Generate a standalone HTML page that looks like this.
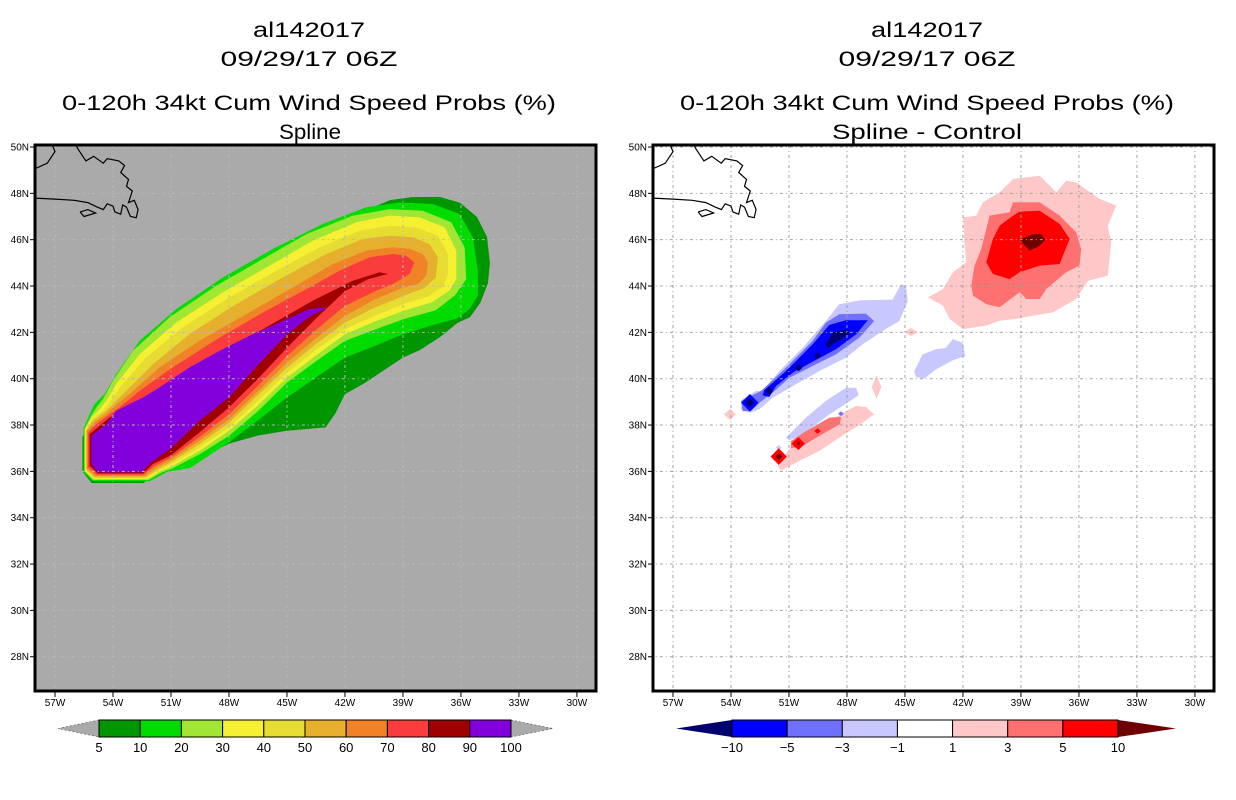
<!DOCTYPE html>
<html><head><meta charset="utf-8"><title>al142017 wind speed probs</title>
<style>html,body{margin:0;padding:0;background:#fff;}svg{display:block;font-family:"Liberation Sans",sans-serif;}</style>
</head><body>
<svg id="fig" width="1236" height="800" viewBox="0 0 1236 800" xmlns="http://www.w3.org/2000/svg">
<defs>
<clipPath id="clipL"><rect x="35" y="145" width="561" height="546"/></clipPath>
<clipPath id="clipR"><rect x="653" y="145" width="561" height="546"/></clipPath>
</defs>
<g font-size="21" text-anchor="middle" fill="#000">
<text x="309" y="37" textLength="112" lengthAdjust="spacingAndGlyphs">al142017</text>
<text x="309" y="66" textLength="177" lengthAdjust="spacingAndGlyphs">09/29/17 06Z</text>
<text x="309" y="110" textLength="494" lengthAdjust="spacingAndGlyphs">0-120h 34kt Cum Wind Speed Probs (%)</text>
<text x="310" y="139" textLength="62" lengthAdjust="spacingAndGlyphs">Spline</text>
</g>
<g font-size="21" text-anchor="middle" fill="#000">
<text x="927" y="37" textLength="112" lengthAdjust="spacingAndGlyphs">al142017</text>
<text x="927" y="66" textLength="177" lengthAdjust="spacingAndGlyphs">09/29/17 06Z</text>
<text x="927" y="110" textLength="494" lengthAdjust="spacingAndGlyphs">0-120h 34kt Cum Wind Speed Probs (%)</text>
<text x="927" y="139" textLength="190" lengthAdjust="spacingAndGlyphs">Spline - Control</text>
</g>
<rect x="35" y="145" width="561" height="546" fill="#aaaaaa"/>
<rect x="653" y="145" width="561" height="546" fill="#ffffff"/>
<g id="leftFill" clip-path="url(#clipL)"></g>
<g id="rightFill" clip-path="url(#clipR)"></g>
<g id="axes"></g>
<g id="cbars"></g>
</svg>
<script>
// ---- axis / tick data ----
const lonTicks = [57,54,51,48,45,42,39,36,33,30];
const latTicks = [50,48,46,44,42,40,38,36,34,32,30,28];

// ---- left panel: probability levels & contour polygons [lonW, lat] ----
const probLevels = [5,10,20,30,40,50,60,70,80,90,100];
const probColors = ["#009600","#00dc00","#a0e632","#f5f032","#e6dc32","#e6af2d","#f08228","#fa3c3c","#a00000","#8200dc"];
const swath5 = [[55.58,37.5],[55.58,36.0],[55.1,35.5],[52.4,35.5],[51.98,36.0],[51.0,36.0],[49.5,36.6],[48.0,37.2],[46.5,37.55],[45.0,37.75],[43.0,37.9],[42.5,38.5],[42.0,39.33],[41.0,39.8],[39.0,40.91],[38.12,41.24],[37.08,41.8],[36.2,42.4],[35.53,42.66],[35.0,43.27],[34.6,44.13],[34.5,45.0],[34.65,46.12],[35.17,46.98],[36.05,47.59],[37.08,47.84],[38.48,47.84],[39.67,47.71],[40.86,47.28],[41.9,46.55],[42.62,46.12],[44.48,45.25],[46.24,44.26],[47.95,43.4],[49.86,42.1],[51.41,40.94],[52.6,39.81],[54.0,38.65],[54.52,38.35],[55.03,38.09]];
const swath10 = [[55.52,37.87],[55.52,35.96],[55.07,35.57],[52.1,35.57],[51.24,35.96],[50.0,36.15],[48.0,37.25],[46.5,38.2],[45.0,39.19],[43.5,40.05],[42.0,40.91],[40.5,41.4],[39.0,41.92],[37.5,42.3],[36.2,42.6],[35.55,43.0],[35.12,43.6],[35.12,44.66],[35.38,46.1],[36.07,47.11],[37.45,47.54],[39.17,47.61],[40.9,47.4],[43.14,46.68],[45.72,45.6],[48.31,44.37],[50.72,43.01],[52.62,41.64],[53.83,40.2],[54.43,39.34],[54.95,38.91],[55.21,38.45]];
const swath20 = [[55.48,37.84],[55.48,36.0],[55.03,35.63],[52.17,35.63],[51.41,35.99],[51.0,36.1],[49.5,36.75],[48.0,37.53],[46.5,38.6],[45.0,39.83],[43.5,40.75],[42.0,41.63],[40.5,42.1],[39.0,42.56],[37.3,42.95],[36.3,43.6],[35.72,44.3],[35.81,45.67],[36.5,46.75],[37.97,47.25],[39.69,47.32],[41.59,47.04],[44.0,46.24],[46.24,45.17],[48.66,44.01],[51.07,42.65],[52.97,41.21],[54.0,39.91],[54.52,39.12],[54.86,38.76],[55.14,38.39]];
const swath30 = [[55.45,37.81],[55.45,36.03],[55.0,35.67],[52.22,35.67],[51.5,36.03],[51.0,36.2],[49.5,36.9],[48.0,37.75],[46.5,38.85],[45.0,40.05],[43.5,41.0],[42.0,41.92],[40.5,42.45],[39.0,42.92],[37.5,43.3],[36.6,43.8],[36.24,44.3],[36.24,45.53],[36.84,46.53],[38.14,46.96],[39.69,47.04],[41.41,46.75],[43.66,45.96],[45.9,44.88],[48.31,43.73],[50.72,42.43],[52.62,41.06],[53.83,39.77],[54.34,39.05],[54.69,38.69],[55.1,38.33]];
const swath40 = [[55.41,37.78],[55.41,36.06],[54.98,35.71],[52.28,35.71],[51.59,36.06],[51.0,36.3],[49.5,37.05],[48.0,37.89],[46.5,39.05],[45.0,40.26],[43.5,41.25],[42.0,42.13],[40.5,42.7],[39.0,43.21],[37.7,43.55],[36.9,44.0],[36.67,44.5],[36.67,45.38],[37.19,46.17],[38.31,46.53],[39.69,46.6],[41.24,46.39],[43.31,45.67],[45.55,44.66],[47.97,43.51],[50.38,42.22],[52.28,40.92],[53.57,39.7],[54.17,38.98],[54.52,38.62],[55.07,38.26]];
const swath50 = [[55.38,37.76],[55.38,36.09],[54.95,35.74],[52.33,35.74],[51.67,36.1],[51.0,36.4],[49.5,37.2],[48.0,38.1],[46.5,39.3],[45.0,40.48],[43.5,41.5],[42.0,42.42],[40.5,43.05],[39.0,43.57],[37.9,43.9],[37.3,44.37],[37.19,45.24],[37.62,45.81],[38.48,46.1],[39.69,46.17],[41.07,46.03],[42.97,45.38],[45.21,44.37],[47.62,43.22],[50.03,41.93],[51.93,40.63],[53.31,39.48],[54.09,38.83],[54.43,38.55],[55.03,38.19]];
const swath60 = [[55.34,37.73],[55.34,36.13],[54.9,35.8],[52.36,35.8],[51.76,36.17],[51.0,36.5],[49.5,37.35],[48.0,38.25],[46.5,39.45],[45.0,40.7],[43.5,41.75],[42.0,42.71],[40.5,43.4],[39.0,43.93],[38.2,44.1],[37.79,44.45],[37.71,45.02],[37.97,45.38],[38.66,45.6],[39.52,45.67],[40.9,45.53],[42.62,44.95],[44.69,43.94],[47.1,42.79],[49.52,41.64],[51.59,40.49],[53.14,39.34],[54.0,38.76],[54.34,38.47],[54.95,38.12]];
const swath70 = [[55.29,37.68],[55.29,36.17],[54.86,35.86],[52.41,35.86],[51.84,36.24],[51.0,36.6],[49.5,37.5],[48.0,38.47],[46.5,39.7],[45.0,40.98],[43.5,42.1],[42.0,43.14],[40.5,43.75],[39.5,44.1],[38.66,44.52],[38.4,45.02],[38.83,45.31],[39.52,45.38],[40.72,45.24],[42.28,44.66],[43.83,43.94],[46.07,42.94],[48.48,41.78],[50.9,40.49],[52.62,39.48],[53.66,38.76],[54.17,38.47],[54.86,38.04]];
const swath80 = [[55.21,37.61],[55.21,36.25],[54.78,35.91],[52.45,35.91],[51.93,36.32],[51.0,36.7],[49.5,37.7],[48.0,38.76],[46.5,40.0],[45.0,41.34],[43.5,42.6],[42.0,43.78],[40.8,44.3],[39.78,44.52],[40.21,44.59],[41.59,44.23],[43.66,43.37],[46.07,42.22],[48.83,40.92],[51.41,39.63],[52.97,38.76],[54.17,38.33],[54.78,37.9]];
const swath90 = [[55.12,37.54],[55.12,36.32],[54.78,35.96],[52.53,35.96],[52.02,36.39],[51.0,37.0],[49.5,38.2],[48.0,39.19],[46.5,40.6],[45.0,41.92],[43.8,42.7],[42.88,43.08],[43.83,43.01],[45.38,42.43],[46.76,41.93],[48.48,41.21],[50.03,40.49],[51.59,39.63],[52.45,39.19],[53.14,38.91],[53.83,38.62],[54.34,38.04],[54.78,37.76]];
const swaths = [swath5,swath10,swath20,swath30,swath40,swath50,swath60,swath70,swath80,swath90];

// ---- right panel: difference levels & colors ----
const diffLevels = [-10,-5,-3,-1,1,3,5,10];
const diffColors = ["#00006e","#0000ff","#7070ff","#c8c8ff","#ffffff","#ffc8c8","#ff7070","#ff0000","#6e0000"];
const negLight = [[52.36,39.47],[51.5,40.33],[50.29,41.34],[49.09,42.49],[48.4,43.21],[47.36,43.38],[45.64,43.42],[45.21,44.07],[44.95,44.0],[44.86,43.35],[45.29,42.49],[46.16,42.06],[47.19,41.48],[48.05,40.91],[49.43,40.33],[50.64,39.76],[51.84,39.18],[52.53,38.68],[53.05,38.53],[53.48,38.68],[53.4,39.11],[52.71,39.47]];
const negMed = [[52.45,39.47],[51.16,40.47],[49.78,41.63],[49.09,42.42],[48.4,42.78],[47.02,42.81],[46.59,42.49],[47.36,41.77],[48.57,41.05],[49.78,40.55],[50.98,40.04],[51.84,39.4],[52.53,38.96],[52.97,38.6],[53.4,38.6],[53.48,39.04]];
const negStrong = [[52.28,39.5],[51.16,40.33],[49.78,41.48],[48.91,42.32],[48.05,42.52],[46.93,42.52],[47.53,41.91],[48.57,41.27],[49.78,40.73],[50.81,40.26],[51.67,39.68],[52.02,39.21],[52.36,39.29]];
const negMax = [[49.09,41.48],[48.74,41.99],[48.05,42.13],[47.84,41.94],[48.48,41.63],[49.0,41.31]];
const negEastLight = [[44.52,40.33],[44.09,41.05],[43.4,41.27],[42.88,41.34],[42.53,41.7],[42.02,41.55],[41.88,40.98],[42.53,40.79],[43.4,40.4],[44.0,40.01],[44.43,40.07]];
const negSouthLight = [[51.16,37.45],[50.12,38.32],[49.09,39.04],[48.05,39.61],[47.53,39.61],[47.4,39.29],[48.05,38.92],[48.91,38.46],[49.78,37.91],[50.47,37.52],[50.98,37.34]];
const posSouthLight = [[51.59,36.23],[50.81,37.17],[49.43,37.88],[48.05,38.6],[47.53,38.82],[47.02,38.78],[46.59,38.46],[47.36,38.0],[48.4,37.45],[49.43,36.88],[50.47,36.45],[51.41,36.04]];
const posSouthMed = [[50.9,37.31],[50.12,37.74],[48.91,38.32],[48.31,38.35],[48.36,38.04],[49.43,37.53],[50.29,37.1],[50.9,37.0]];
const posNorthLight = [[43.81,43.51],[43.03,43.87],[42.52,44.59],[41.83,45.02],[41.91,45.74],[42.0,46.96],[41.31,47.04],[40.97,47.61],[40.1,48.04],[39.41,48.62],[38.03,48.76],[37.17,48.04],[36.66,48.55],[36.14,48.47],[34.93,47.76],[34.07,47.47],[34.5,46.6],[34.33,45.88],[34.5,44.45],[35.53,44.23],[36.14,43.44],[37.34,42.86],[38.38,42.72],[39.24,42.58],[40.1,42.5],[40.79,42.29],[42.0,42.14],[42.69,42.58],[43.03,43.15]];
const posNorthMed = [[41.57,44.01],[41.4,44.88],[41.05,45.6],[40.62,47.04],[39.59,47.18],[39.41,47.61],[38.03,47.61],[37.0,47.04],[36.14,46.32],[35.88,45.6],[35.97,44.88],[36.66,44.59],[37.69,43.87],[38.03,43.44],[38.72,43.44],[39.07,43.73],[40.1,43.08],[40.79,43.22],[41.48,43.58]];
const posNorthStrong = [[40.79,45.02],[40.45,46.03],[40.1,46.6],[39.41,47.04],[39.07,47.21],[38.03,47.25],[37.0,46.68],[36.48,46.03],[36.83,45.31],[37.0,44.95],[38.03,44.88],[39.07,44.59],[39.59,44.3],[40.45,44.52]];
const posNorthMax = [[39.07,46.0],[38.38,46.24],[37.95,46.24],[37.74,46.0],[38.03,45.74],[38.55,45.53]];
const diffPolys = [negLight,negMed,negStrong,negMax,negEastLight,negSouthLight,posSouthLight,posSouthMed,posNorthLight,posNorthMed,posNorthStrong,posNorthMax];
const diffPolyColor = [3,2,1,0,3,3,5,6,5,6,7,8];
const diffDiamonds = [[53.02,38.96,0.45,0.38,1],[53.02,38.96,0.22,0.19,0],[49.52,41.0,0.17,0.14,0],[50.5,40.47,0.2,0.15,0],[52.02,39.47,0.2,0.17,0],[54.05,38.46,0.3,0.25,5],[44.69,42.01,0.35,0.18,5],[46.47,39.64,0.25,0.5,5],[51.53,37.02,0.15,0.12,3],[48.31,38.49,0.15,0.1,2],[50.52,37.2,0.35,0.28,7],[50.52,37.2,0.1,0.08,8],[49.52,37.74,0.17,0.12,7],[51.53,36.64,0.42,0.36,7],[51.53,36.64,0.17,0.14,8]];

const coastMain = [[58.2,47.8],[57.0,47.75],[56.0,47.7],[55.3,47.6],[54.8,47.4],[54.5,47.3],[54.3,47.55],[54.0,47.45],[53.9,47.2],[53.6,47.1],[53.5,47.5],[53.3,47.4],[53.1,47.0],[52.8,46.95],[52.7,47.3],[52.9,47.7],[53.2,47.6],[53.0,48.1],[53.3,48.3],[53.2,48.6],[53.6,48.9],[53.4,49.2],[53.7,49.4],[54.3,49.5],[54.5,49.3],[55.0,49.6],[55.4,49.4],[55.8,49.9],[56.0,50.2]];
const coastNorth = [[58.2,49.0],[57.4,49.3],[57.0,49.8],[57.2,50.2]];
const coastIsle = [[55.7,47.2],[55.5,47.0],[54.9,47.15],[55.3,47.3],[55.7,47.2]];

const NS="http://www.w3.org/2000/svg";
const PXD = 19.33, PYD = 23.17;
function xL(lon){return 55 + (57-lon)*PXD;}
function xR(lon){return 673 + (57-lon)*PXD;}
function yM(lat){return 147 + (50-lat)*PYD;}
function mk(tag, attrs, parent){const e=document.createElementNS(NS,tag);for(const k in attrs)e.setAttribute(k,attrs[k]);parent.appendChild(e);return e;}
function pts(poly, xf){return poly.map(p=>xf(p[0]).toFixed(1)+","+yM(p[1]).toFixed(1)).join(" ");}

const leftFill=document.getElementById('leftFill');
const rightFill=document.getElementById('rightFill');
const axes=document.getElementById('axes');
const cbars=document.getElementById('cbars');

swaths.forEach((poly,i)=>{
  const e=mk('polygon',{points:pts(poly,xL),fill:probColors[i]},leftFill);
  
  
});
diffPolys.forEach((poly,i)=>{
  const e=mk('polygon',{points:pts(poly,xR),fill:diffColors[diffPolyColor[i]]},rightFill);
  
  
});
diffDiamonds.forEach(d=>{
  const [lon,lat,hl,ha,c]=d;
  const poly=[[lon+hl,lat],[lon,lat+ha],[lon-hl,lat],[lon,lat-ha]];
  const e=mk('polygon',{points:pts(poly,xR),fill:diffColors[c]},rightFill);
  
  
});

[[leftFill,xL,'#b8b8b8'],[rightFill,xR,'#a0a0a0']].forEach(([g,xf,col])=>{
  const gg=mk('g',{stroke:col,'stroke-width':1,'stroke-dasharray':'3,3,1,3',fill:'none'},g);
  
  
  lonTicks.forEach(l=>mk('line',{x1:xf(l),x2:xf(l),y1:145,y2:691},gg));
  latTicks.forEach(l=>mk('line',{x1:xf(58.2),x2:xf(28.8),y1:yM(l),y2:yM(l)},gg));
  [coastMain,coastNorth,coastIsle].forEach(c=>{
    const e=mk('polyline',{points:pts(c,xf),stroke:'#000','stroke-width':1.2,fill:'none'},g);
    
    
  });
});
[[35,xL],[653,xR]].forEach(([bx,xf],pi)=>{
  const b=mk('rect',{x:bx,y:145,width:561,height:546,fill:'none',stroke:'#000','stroke-width':3},axes);
  
  
  lonTicks.forEach(l=>{
    mk('line',{x1:xf(l),x2:xf(l),y1:691,y2:697,stroke:'#000','stroke-width':1},axes);
    const t=mk('text',{x:xf(l),y:706,'font-size':10,'text-anchor':'middle'},axes);
    t.textContent=l+'W';
    
    
  });
  latTicks.forEach(l=>{
    mk('line',{x1:bx-5,x2:bx,y1:yM(l),y2:yM(l),stroke:'#000','stroke-width':1},axes);
    const t=mk('text',{x:bx-6,y:yM(l)+3.5,'font-size':10,'text-anchor':'end'},axes);
    t.textContent=l+'N';
    
    
  });
});

(function(){
  const x0=99,x1=511,y0=720,y1=737,n=probColors.length,w=(x1-x0)/n,ym=(y0+y1)/2;
  const lt=mk('polygon',{points:`58,${ym} ${x0},${y0} ${x0},${y1}`,fill:'#aaaaaa',stroke:'#555','stroke-width':0.6,'stroke-dasharray':'2,2'},cbars);
  
  
  const rt=mk('polygon',{points:`${x1},${y0} 553,${ym} ${x1},${y1}`,fill:'#aaaaaa',stroke:'#555','stroke-width':0.6,'stroke-dasharray':'2,2'},cbars);
  
  
  probColors.forEach((c,i)=>{
    const r=mk('rect',{x:x0+i*w,y:y0,width:w,height:y1-y0,fill:c,stroke:'#000','stroke-width':1},cbars);
    
    
  });
  probLevels.forEach((v,i)=>{
    const t=mk('text',{x:x0+i*w,y:752,'font-size':13,'text-anchor':'middle'},cbars);
    t.textContent=v;
    
    
  });
})();
(function(){
  const x0=732,x1=1118,y0=720,y1=737,n=diffColors.length-2,w=(x1-x0)/n,ym=(y0+y1)/2;
  const lt=mk('polygon',{points:`676,${ym} ${x0},${y0} ${x0},${y1}`,fill:diffColors[0]},cbars);
  
  
  const rt=mk('polygon',{points:`${x1},${y0} 1176,${ym} ${x1},${y1}`,fill:diffColors[diffColors.length-1]},cbars);
  
  
  for(let i=0;i<n;i++){
    const r=mk('rect',{x:x0+i*w,y:y0,width:w,height:y1-y0,fill:diffColors[i+1],stroke:'#000','stroke-width':1},cbars);
    
    
  }
  diffLevels.forEach((v,i)=>{
    const t=mk('text',{x:x0+i*w,y:752,'font-size':13,'text-anchor':'middle'},cbars);
    t.textContent=v<0?'\u2212'+(-v):v;
    
    
  });
})();
</script>
</body></html>
